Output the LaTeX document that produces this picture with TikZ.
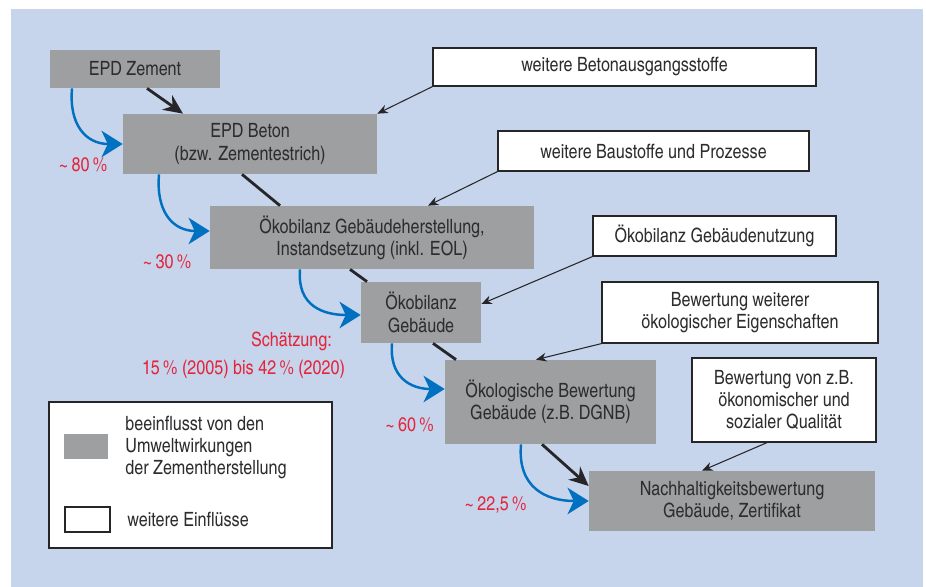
\documentclass[tikz,border=0pt]{standalone}
\usepackage{fontspec}
\setmainfont{TeX Gyre Heros Cn}
\usetikzlibrary{positioning}
\usetikzlibrary{arrows.meta}
\definecolor{bgblue}{RGB}{198,212,236}
\definecolor{boxgray}{RGB}{158,159,161}
\definecolor{txtgray}{RGB}{45,45,48}
\definecolor{chaingray}{RGB}{38,38,40}
\definecolor{flowblue}{RGB}{0,112,192}
\definecolor{pctred}{RGB}{228,36,58}

\begin{document}
\begin{tikzpicture}[x=0.02cm,y=-0.02cm,
    font=\fontsize{11.2}{12.6}\selectfont,
    grau/.style={fill=boxgray,text=txtgray,align=center,inner sep=0pt},
    weiss/.style={draw=chaingray,fill=white,text=txtgray,align=center,inner sep=0pt,line width=0.7pt},
    kette/.style={draw=chaingray,line width=1.6pt},
    kettepfeil/.style={kette,-{Stealth[length=11pt,width=10pt]}},
    zufluss/.style={draw=chaingray,line width=0.6pt,-{Stealth[length=6pt,width=5pt]}},
    anteil/.style={draw=flowblue,line width=1.4pt,-{Stealth[length=12pt,width=15pt,inset=3.5pt]}},
    prozent/.style={text=pctred}]
  \useasboundingbox (0,0) rectangle (926,587);
  \fill[bgblue] (11,9) rectangle (923,587);

  % Kette der Bewertungen
  \node (zement)   [grau,minimum width=3.4cm,minimum height=0.76cm]  at (135,69)    {EPD Zement};
  \node (beton)    [grau,minimum width=5.08cm,minimum height=1.2cm]  at (250,144)   {EPD Beton\\(bzw. Zementestrich)};
  \node (herst)    [grau,minimum width=6.48cm,minimum height=1.26cm] at (372,237.5) {Ökobilanz Gebäudeherstellung,\\Instandsetzung (inkl. EOL)};
  \node (gebaeude) [grau,minimum width=2.4cm,minimum height=1.22cm]  at (421,312.5) {Ökobilanz\\Gebäude};
  \node (oekolog)  [grau,minimum width=4.22cm,minimum height=1.68cm] at (550.5,402) {Ökologische Bewertung\\Gebäude (z.B. DGNB)};
  \node (nachhalt) [grau,minimum width=5.72cm,minimum height=1.2cm]  at (732,501)   {Nachhaltigkeitsbewertung\\Gebäude, Zertifikat};

  % weitere Einfluesse
  \node (betonstoffe) [weiss,minimum width=7.66cm,minimum height=0.76cm] at (624.5,67)  {weitere Betonausgangsstoffe};
  \node (baustoffe)   [weiss,minimum width=6.22cm,minimum height=0.8cm]  at (653.5,151) {weitere Baustoffe und Prozesse};
  \node (nutzung)     [weiss,minimum width=4.86cm,minimum height=0.8cm]  at (714.5,236) {Ökobilanz Gebäudenutzung};
  \node (eigensch)    [weiss,minimum width=5.52cm,minimum height=1.22cm] at (740,312.5) {Bewertung weiterer\\ökologischer Eigenschaften};
  \node (qualitaet)   [weiss,minimum width=3.68cm,minimum height=1.68cm] at (784,400)   {Bewertung von z.B.\\ökonomischer und\\sozialer Qualität};

  \path
  ([xshift=0.24cm]zement.south) edge [kettepfeil] ([xshift=-1.34cm]beton.north)
  ([xshift=-0.16cm]beton.south) edge [kette] ([xshift=-1.84cm]herst.north)
  ([xshift=-0.44cm]herst.south) edge [kette] ([xshift=-1.08cm]gebaeude.north)
  ([xshift=0.24cm]gebaeude.south) edge [kette] ([xshift=-1.89cm]oekolog.north)
  ([xshift=-0.17cm]oekolog.south) edge [kettepfeil] ([yshift=0.3cm]nachhalt.west);

  \path
  (betonstoffe.south west) edge [zufluss] (beton.north east)
  (baustoffe.south west) edge [zufluss] ([xshift=1.12cm]herst.north)
  (nutzung.south west) edge [zufluss] ([yshift=0.17cm]gebaeude.east)
  (eigensch.south west) edge [zufluss] ([xshift=-0.29cm]oekolog.north)
  ([xshift=-0.34cm]qualitaet.south) edge [zufluss] ([xshift=-0.6cm]nachhalt.north);

  \path
  ([xshift=-1.26cm]zement.south) edge [anteil,out=-95,in=180,looseness=1.25] (beton.west)
  ([xshift=-1.82cm]beton.south) edge [anteil,out=-95,in=180,looseness=1.25] ([yshift=0.13cm]herst.west)
  ([xshift=-1.44cm]herst.south) edge [anteil,out=-95,in=180,looseness=1.25] ([yshift=-0.05cm]gebaeude.west)
  ([xshift=-0.58cm]gebaeude.south) edge [anteil,out=-95,in=180,looseness=1.25] ([yshift=0.26cm]oekolog.west)
  ([xshift=-0.59cm]oekolog.south) edge [anteil,out=-95,in=180,looseness=1.25] (nachhalt.west);

  % Anteile
  \node (p80)   [prozent] at (83,165)    {\textasciitilde\,80\,\%};
  \node (p30)   [prozent] at (167,262)   {\textasciitilde\,30\,\%};
  \node (schaetz) [prozent,anchor=east] at (338,341) {Schätzung:};
  \node (spanne) [prozent] at (243.5,369) {15\,\% (2005) bis 42\,\% (2020)};
  \node (p60)   [prozent] at (409.5,425) {\textasciitilde\,60\,\%};
  \node (p225)  [prozent] at (495.5,505) {\textasciitilde\,22,5\,\%};

  % Legende
  \node (legende) [weiss,minimum width=5.66cm,minimum height=2.92cm] at (190.5,475) {};
  \node (grauprobe)  [grau,minimum width=0.88cm,minimum height=0.5cm] at (86,446.5) {};
  \node (weissprobe) [weiss,minimum width=0.9cm,minimum height=0.5cm] at (87.5,519.5) {};
  \node (grautext)  [anchor=west,align=left,text=txtgray,inner sep=0pt] at (125,447.5) {beeinflusst von den\\Umweltwirkungen\\der Zementherstellung};
  \node (weisstext) [anchor=west,text=txtgray,inner sep=0pt] at (127,519) {weitere Einflüsse};
\end{tikzpicture}
\end{document}
